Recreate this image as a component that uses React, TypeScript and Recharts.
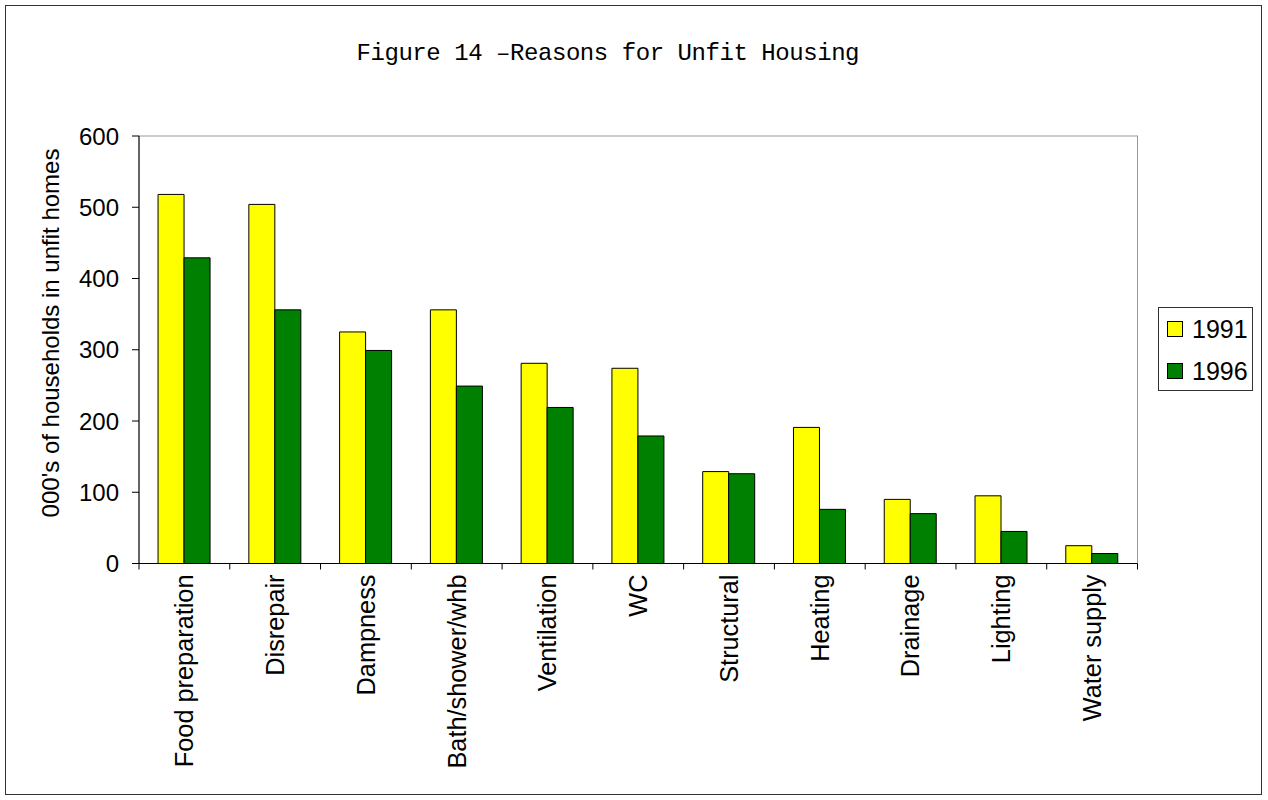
import React from "react";
import { BarChart, Bar, XAxis, YAxis } from "recharts";

const REASONS = [
  "Food preparation",
  "Disrepair",
  "Dampness",
  "Bath/shower/whb",
  "Ventilation",
  "WC",
  "Structural",
  "Heating",
  "Drainage",
  "Lighting",
  "Water supply",
];

const UNFIT_1991 = [518, 504, 325, 356, 281, 274, 129, 191, 90, 95, 25];
const UNFIT_1996 = [429, 356, 299, 249, 219, 179, 126, 76, 70, 45, 14];

const Y_TICKS = [0, 100, 200, 300, 400, 500, 600];

const SERIES = [
  { key: "y1991", name: "1991", fill: "#FFFF00", values: UNFIT_1991 },
  { key: "y1996", name: "1996", fill: "#008000", values: UNFIT_1996 },
];

const data = REASONS.map((reason, i) => ({
  reason,
  y1991: UNFIT_1991[i],
  y1996: UNFIT_1996[i],
}));

const W = 1268;
const H = 800;
const PLOT_LEFT = 139;
const PLOT_TOP = 136;
const PLOT_RIGHT = 1137.5;
const PLOT_BOTTOM = 563.5;
const BAND = (PLOT_RIGHT - PLOT_LEFT) / REASONS.length;
const FONT = '"Liberation Sans", Arial, sans-serif';

// category label rotated upward, with Excel-style tick marks on the band edges
function CategoryTick(props: any) {
  const { x, y, payload, index } = props;
  const left = x - BAND / 2;
  return (
    <g>
      <line x1={left} y1={y} x2={left} y2={y + 6} stroke="#000" />
      {index === REASONS.length - 1 && (
        <line x1={x + BAND / 2} y1={y} x2={x + BAND / 2} y2={y + 6} stroke="#000" />
      )}
      <text
        x={x}
        y={y + 11}
        transform={`rotate(-90 ${x} ${y + 11})`}
        textAnchor="end"
        dy="0.35em"
        fontFamily={FONT}
        fontSize={25.3}
        fill="#000"
      >
        {payload.value}
      </text>
    </g>
  );
}

export default function App() {
  return (
    <div style={{ position: "absolute", left: 0, top: 0, width: W, height: H, background: "#fff" }}>
      <svg width={W} height={H} style={{ position: "absolute", left: 0, top: 0 }}>
        <rect x={5.5} y={5.5} width={1256} height={789} fill="none" stroke="#333" />
        <rect
          x={PLOT_LEFT}
          y={PLOT_TOP}
          width={PLOT_RIGHT - PLOT_LEFT}
          height={PLOT_BOTTOM - PLOT_TOP}
          fill="none"
          stroke="#999"
        />
        <text
          x={608}
          y={60}
          textAnchor="middle"
          fontFamily='"Liberation Mono", "Courier New", monospace'
          fontSize={24}
          textLength={503}
          lengthAdjust="spacing"
          fill="#000"
        >
          Figure 14 –Reasons for Unfit Housing
        </text>
        <text
          x={51}
          y={333}
          transform="rotate(-90 51 333)"
          textAnchor="middle"
          dy="0.35em"
          fontFamily={FONT}
          fontSize={24}
          fill="#000"
        >
          000's of households in unfit homes
        </text>
      </svg>
      <div style={{ position: "absolute", left: 0, top: 0 }}>
        <BarChart
          width={W}
          height={H}
          data={data}
          margin={{ top: PLOT_TOP, right: W - PLOT_RIGHT, bottom: 36, left: PLOT_LEFT - 70 }}
          barCategoryGap="21%"
          barGap={0}
        >
          <XAxis
            dataKey="reason"
            height={H - PLOT_BOTTOM - 36}
            interval={0}
            tickLine={false}
            tickSize={0}
            tickMargin={0}
            axisLine={{ stroke: "#000" }}
            tick={<CategoryTick />}
          />
          <YAxis
            width={70}
            domain={[0, 600]}
            ticks={Y_TICKS}
            interval={0}
            tickSize={7}
            tickMargin={13}
            axisLine={{ stroke: "#000" }}
            tickLine={{ stroke: "#000" }}
            tick={{ fill: "#000", fontFamily: FONT, fontSize: 24 }}
          />
          {SERIES.map((s) => (
            <Bar
              key={s.key}
              dataKey={s.key}
              name={s.name}
              fill={s.fill}
              stroke="#000"
              strokeWidth={1}
              isAnimationActive={false}
            />
          ))}
        </BarChart>
      </div>
      <div
        style={{
          position: "absolute",
          left: 1158,
          top: 307,
          width: 95,
          height: 84,
          border: "1px solid #333",
          boxSizing: "border-box",
          fontFamily: FONT,
          fontSize: 25,
          color: "#000",
        }}
      >
        {SERIES.map((s, i) => (
          <div
            key={s.key}
            style={{
              position: "absolute",
              left: 8,
              top: 5 + i * 42,
              height: 32,
              display: "flex",
              alignItems: "center",
            }}
          >
            <span
              style={{
                display: "inline-block",
                width: 14,
                height: 14,
                background: s.fill,
                border: "1px solid #000",
                marginRight: 9,
              }}
            />
            {s.name}
          </div>
        ))}
      </div>
    </div>
  );
}
